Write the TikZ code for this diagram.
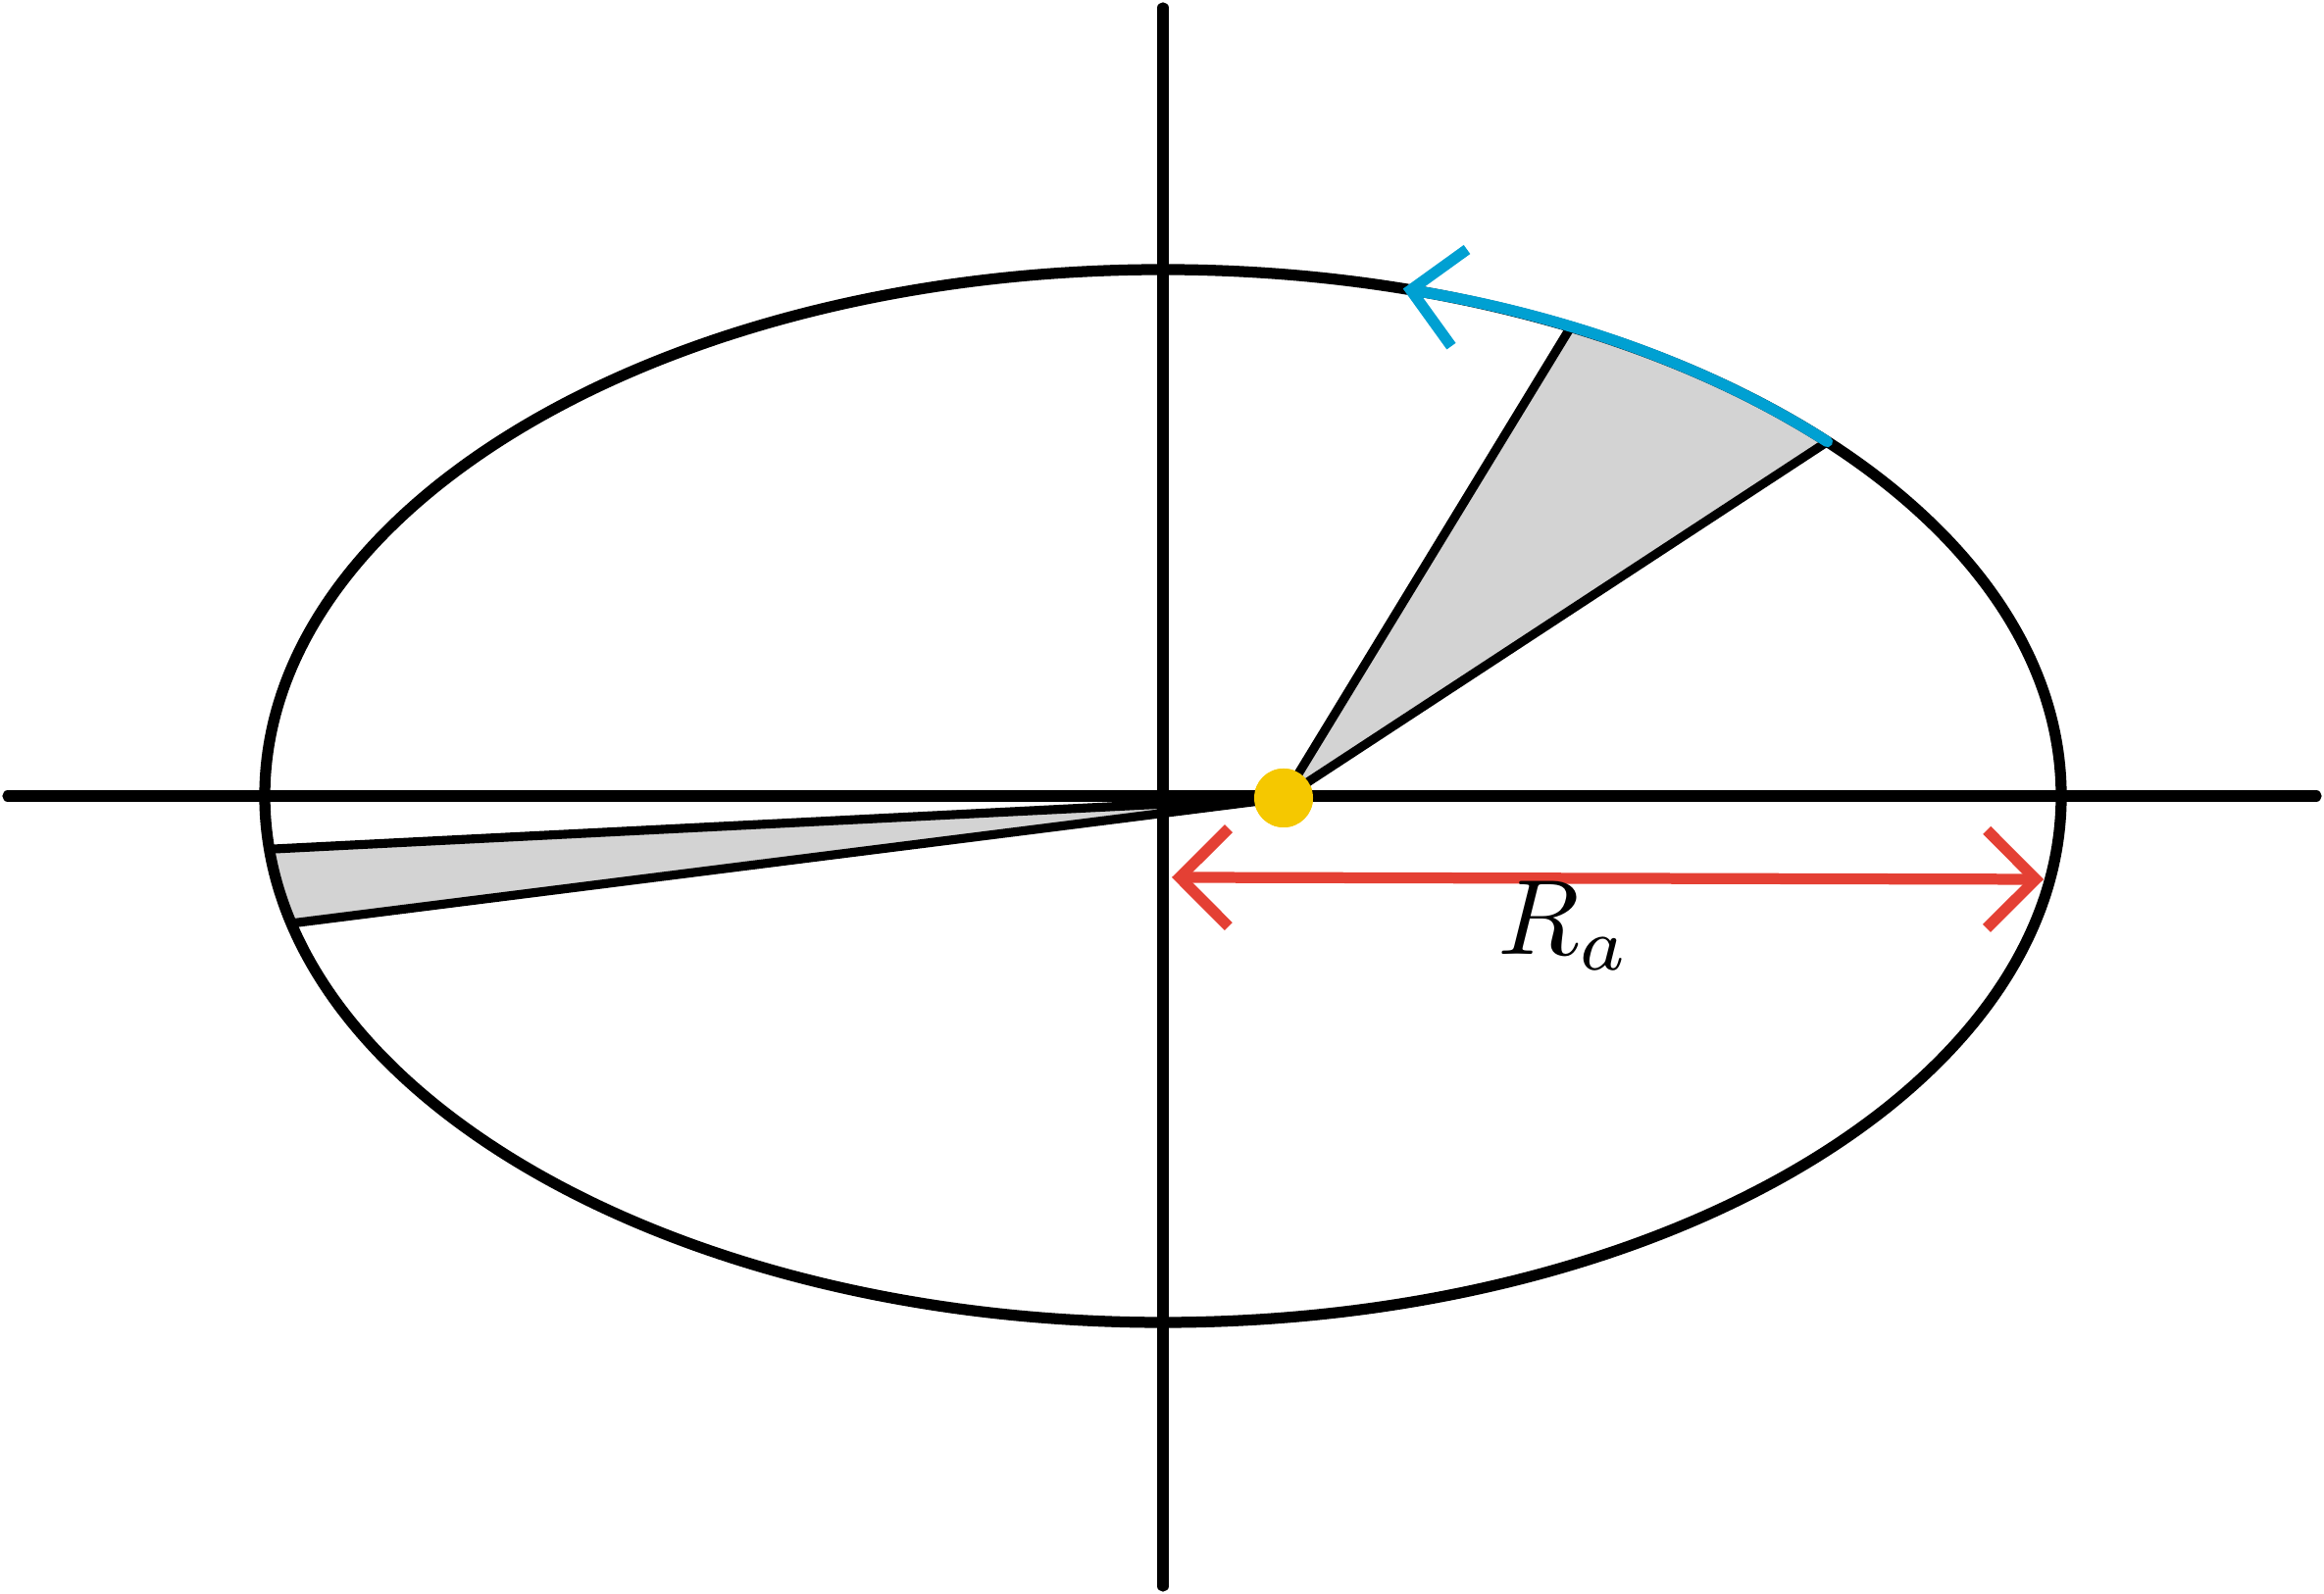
\documentclass[tikz,border=0pt]{standalone}
\usetikzlibrary{arrows.meta,calc}
\definecolor{orbitblue}{RGB}{0,160,210}
\definecolor{distred}{RGB}{228,64,52}
\definecolor{sunyellow}{RGB}{245,200,0}
\definecolor{wedgegray}{RGB}{211,211,211}
\begin{document}
\begin{tikzpicture}[line cap=round,line join=round,
                    barb/.style={-{Straight Barb[length=5mm,width=10mm,line width=3.2pt]}}]
  \tikzstyle{axis}=[line width=3.2pt]
  \tikzstyle{sector}=[fill=wedgegray,draw=black,line width=2.6pt]
  \useasboundingbox (0,0) rectangle (23.7,16.26);
  \coordinate (C) at (11.86,8.14);
  \node[circle,fill=sunyellow,minimum size=6mm,inner sep=0pt] (sun) at (13.09,8.12) {};
  % sectors
  \draw[sector] (sun.center) -- ($(C)+(63:9.16 and 5.37)$) coordinate (p1)
    arc[start angle=63,end angle=42.3,x radius=9.16,y radius=5.37] coordinate (p2) -- cycle;
  \draw[sector] (sun.center) -- ($(C)+(185.8:9.16 and 5.37)$) coordinate (q1)
    arc[start angle=185.8,end angle=194,x radius=9.16,y radius=5.37] coordinate (q2) -- cycle;
  % orbit and axes
  \draw[axis] (C) ellipse[x radius=9.16,y radius=5.37];
  \coordinate (xl) at (0.08,8.14);
  \coordinate (xr) at (23.62,8.14);
  \coordinate (yb) at (11.86,0.08);
  \coordinate (yt) at (11.86,16.18);
  \draw[axis] (xl) -- (xr);
  \draw[axis] (yb) -- (yt);
  \node[circle,fill=sunyellow,minimum size=6mm,inner sep=0pt] at (sun) {};
  % motion along the orbit
  \draw[orbitblue,line width=3.2pt,barb] (p2)
    arc[start angle=42.3,end angle=74.5,x radius=9.16,y radius=5.37];
  % distance
  \coordinate (rl) at (11.95,7.31);
  \coordinate (rr) at (20.84,7.29);
  \draw[distred,line width=3.2pt,{Straight Barb[length=5mm,width=10mm,line width=3.2pt]}-{Straight Barb[length=5mm,width=10mm,line width=3.2pt]}] (rl) -- (rr);
  \node[scale=3.1] (Ra) at (15.95,6.82) {$R_a$};
\end{tikzpicture}
\end{document}
